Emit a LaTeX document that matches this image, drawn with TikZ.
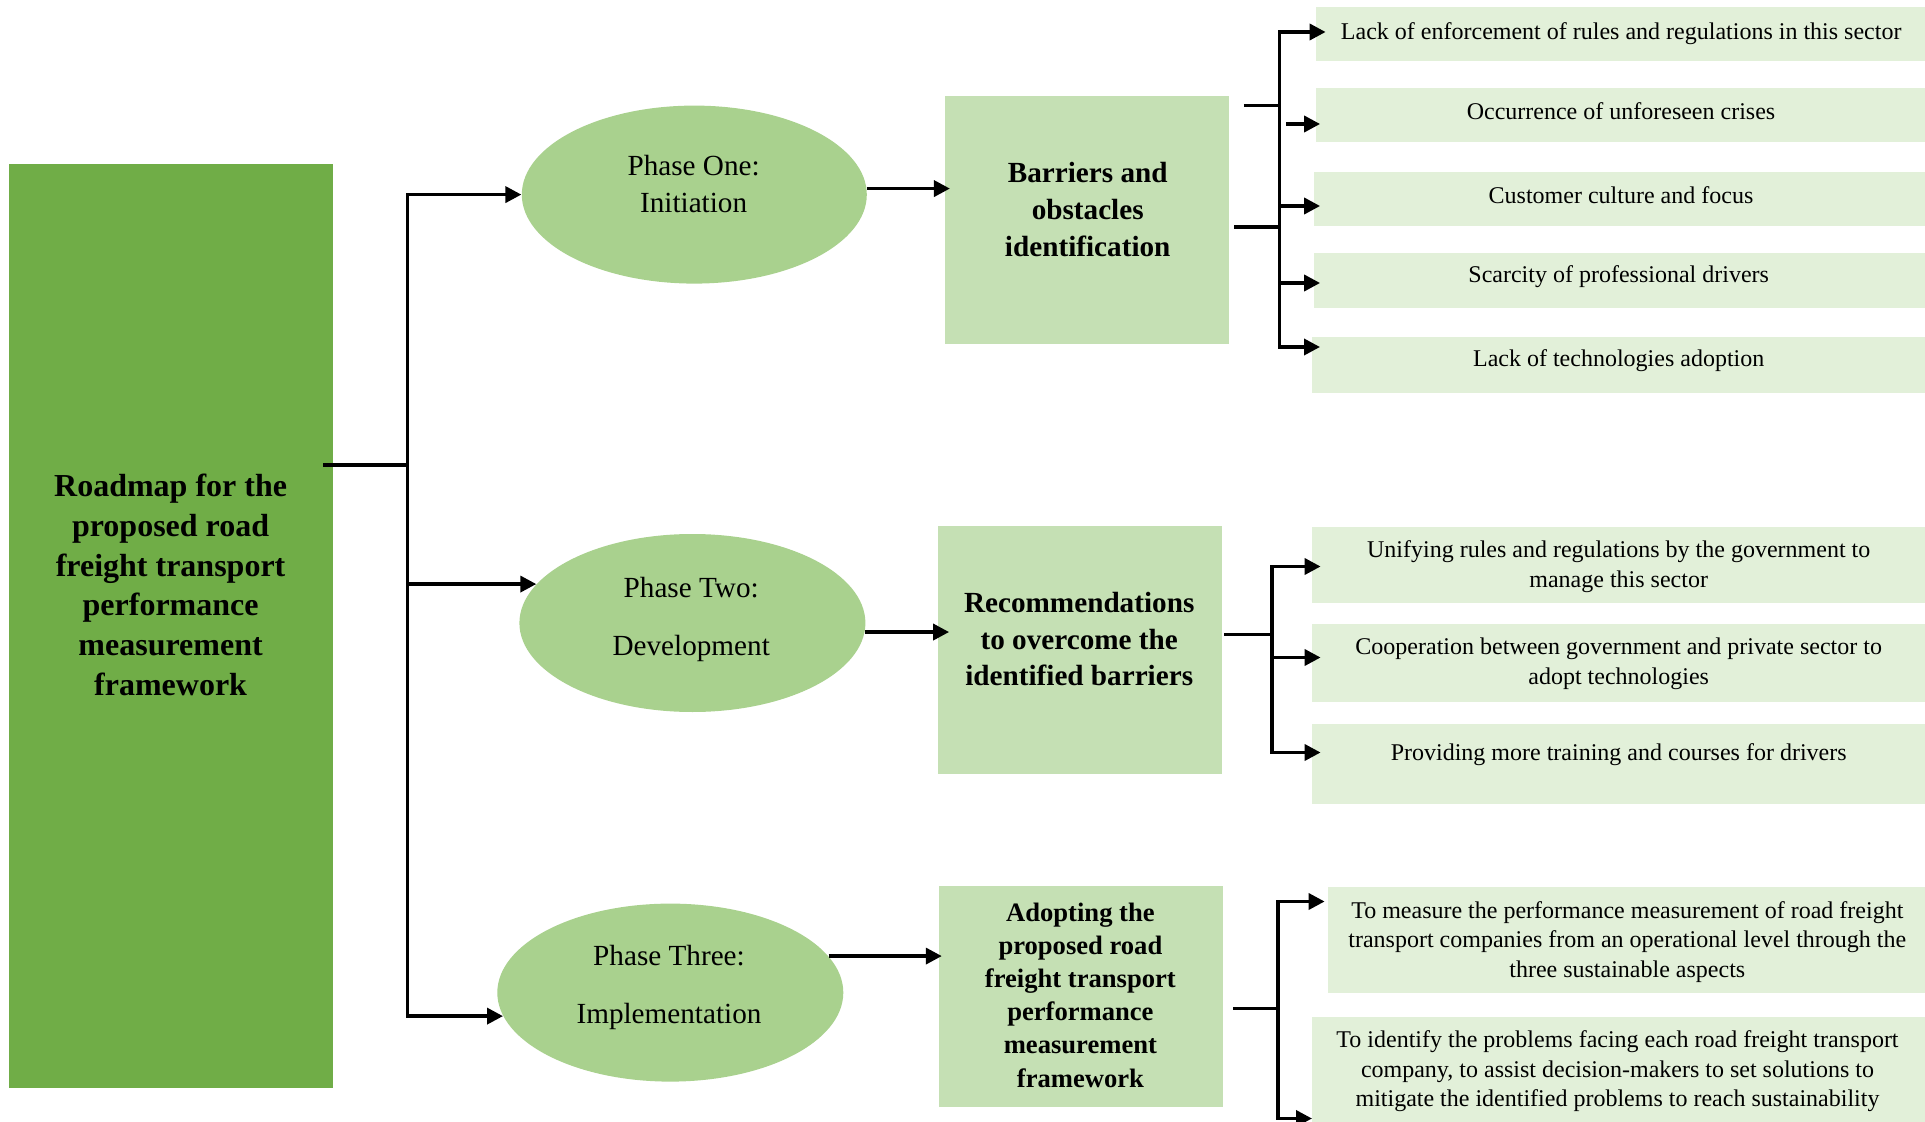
\documentclass[tikz,border=0pt]{standalone}
\usepackage{fontspec}
\setmainfont{Liberation Serif}
\usetikzlibrary{arrows.meta,shapes.geometric,calc}

\definecolor{rootgreen}{HTML}{70AD47}
\definecolor{phasegreen}{HTML}{A9D18E}
\definecolor{midgreen}{HTML}{C5E0B4}
\definecolor{itemgreen}{HTML}{E2F0D9}

\tikzset{
  rootbox/.style={rectangle, fill=rootgreen, inner sep=0pt},
  phase/.style={ellipse, fill=phasegreen, inner sep=0pt, minimum width=173pt, minimum height=89pt},
  midbox/.style={rectangle, fill=midgreen, inner sep=0pt, minimum width=141.8pt},
  itembox/.style={rectangle, fill=itemgreen, inner sep=0pt},
  txt/.style={align=center, inner sep=0pt},
  itemtxt/.style={txt, font=\fontsize{12}{15.3}\selectfont},
  phasetxt/.style={txt, font=\fontsize{14.6}{28.9}\selectfont},
  midtxt/.style={txt, font=\bfseries\fontsize{14.6}{18.4}\selectfont},
  conn/.style={line width=1.8pt},
  arr/.style={conn, -{Triangle[length=8pt,width=8pt]}}
}

\begin{document}
\begin{tikzpicture}[x=0.5pt,y=-0.5pt]
\useasboundingbox (0,0) rectangle (1925,1122);

% ---- main block ----
\node[rootbox, minimum width=162.05pt, minimum height=461.65pt] (root) at (170.65,626.15) {};
\node[txt, font=\bfseries\fontsize{16}{19.85}\selectfont] (rootT) at (170.6,585)
  {Roadmap for the\\proposed road\\freight transport\\performance\\measurement\\framework};

% ---- phases ----
\node[phase, minimum width=172.5pt] (e1) at (694.3,194.6) {};
\node[phase] (e2) at (692.4,623) {};
\node[phase] (e3) at (670.3,992.6) {};
\node[txt, font=\fontsize{14.6}{18.4}\selectfont] (e1T) at (693.6,184.2) {Phase One:\\Initiation};
\node[phasetxt] (e2T) at (691.2,619.5) {Phase Two:\\Development};
\node[phasetxt] (e3T) at (669,987.7) {Phase Three:\\Implementation};

% ---- phase outcomes ----
\node[midbox, minimum height=124pt] (b1) at (1087.1,219.8) {};
\node[midbox, minimum height=124pt] (b2) at (1079.8,649.5) {};
\node[midbox, minimum height=110.5pt] (b3) at (1081,996.9) {};
\node[midtxt] (b1T) at (1087.7,209.5) {Barriers and\\obstacles\\identification};
\node[midtxt] (b2T) at (1079.2,639.2) {Recommendations\\to overcome the\\identified barriers};
\node[txt, font=\bfseries\fontsize{13.3}{16.6}\selectfont] (b3T) at (1080.4,995)
  {Adopting the\\proposed road\\freight transport\\performance\\measurement\\framework};

% ---- detail items ----
\node[itembox, minimum width=304.5pt,  minimum height=27pt]    (r1)  at (1620.5,34) {};
\node[itembox, minimum width=304.5pt,  minimum height=27pt]    (r2)  at (1620.5,115) {};
\node[itembox, minimum width=305.75pt, minimum height=27pt]    (r3)  at (1619.25,199) {};
\node[itembox, minimum width=305.75pt, minimum height=27.5pt]  (r4)  at (1619.25,280.5) {};
\node[itembox, minimum width=306.3pt,  minimum height=28pt]    (r5)  at (1618.7,365) {};
\node[itembox, minimum width=306.3pt,  minimum height=38.25pt] (r6)  at (1618.7,564.75) {};
\node[itembox, minimum width=306.3pt,  minimum height=39.35pt] (r7)  at (1618.7,662.85) {};
\node[itembox, minimum width=306.3pt,  minimum height=39.9pt]  (r8)  at (1618.7,764.1) {};
\node[itembox, minimum width=298.75pt, minimum height=53pt]    (r9)  at (1626.25,940.2) {};
\node[itembox, minimum width=306.3pt,  minimum height=52.75pt] (r10) at (1618.7,1069.25) {};

\node[itemtxt] (r1T) at (1621.2,33.2) {Lack of enforcement of rules and regulations in this sector};
\node[itemtxt] (r2T) at (1621,111.5) {Occurrence of unforeseen crises};
\node[itemtxt] (r3T) at (1621,195) {Customer culture and focus};
\node[itemtxt] (r4T) at (1618.7,276.3) {Scarcity of professional drivers};
\node[itemtxt] (r5T) at (1618.7,361) {Lack of technologies adoption};
\node[itemtxt] (r6T) at (1618.7,566.5) {Unifying rules and regulations by the government to\\manage this sector};
\node[itemtxt] (r7T) at (1618.7,663.6) {Cooperation between government and private sector to\\adopt technologies};
\node[itemtxt] (r8T) at (1618.7,755.1) {Providing more training and courses for drivers};
\node[txt, font=\fontsize{12}{14.75}\selectfont] (r9T) at (1627.3,941.7)
  {To measure the performance measurement of road freight\\transport companies from an operational level through the\\three sustainable aspects};
\node[txt, font=\fontsize{12}{14.75}\selectfont] (r10T) at (1617.5,1071.3)
  {To identify the problems facing each road freight transport\\company, to assist decision-makers to set solutions to\\mitigate the identified problems to reach sustainability};

% ---- main block to phases ----
\coordinate (s1) at (407.5,465);
\draw[conn] ($(root.east |- s1)+(-10,0)$) -- (s1);
\draw[arr] (s1) |- (e1.west);
\draw[arr] (s1) |- (e3.188);
\draw[arr] (s1 |- e2.166) -- (e2.166);

% ---- phases to outcomes ----
\draw[arr] (e1.2) -- ($(e1.2 -| b1.west)+(5,0)$);
\draw[arr] (e2.357) -- ($(e2.357 -| b2.west)+(11.5,0)$);
\draw[arr] (e3.13) -- ($(e3.13 -| b3.west)+(3,0)$);

% ---- barriers to items ----
\coordinate (j1) at (1279.5,227);
\draw[conn] ($(b1.east |- j1)+(5,0)$) -- (j1);
\draw[conn] ($(b1.north east)+(14.6,10.2)$) -- ($(j1 |- b1.north east)+(0,10.2)$);
\draw[arr] (j1) |- ($(r1.west)+(10,-2)$);
\draw[arr] (j1) |- ($(r5.west)+(8,-18)$);
\draw[arr] ($(j1 |- r2.west)+(6.5,9)$) -- ($(r2.west)+(4.5,9)$);
\draw[arr] ($(j1 |- r3.west)+(0,7)$) -- ($(r3.west)+(7,7)$);
\draw[arr] ($(j1 |- r4.west)+(0,2.5)$) -- ($(r4.west)+(7,2.5)$);

% ---- recommendations to items ----
\coordinate (j2) at (1272,634.5);
\draw[conn] ($(b2.east |- j2)+(2,0)$) -- (j2);
\draw[arr] (j2) |- ($(r6.west)+(8.6,1.75)$);
\draw[arr] (j2) |- ($(r8.west)+(8.6,-11.6)$);
\draw[arr] ($(j2 |- r7.west)+(0,-5.35)$) -- ($(r7.west)+(8.6,-5.35)$);

% ---- adoption to items ----
\coordinate (j3) at (1278,1008.3);
\draw[conn] ($(b3.east |- j3)+(10,0)$) -- (j3);
\draw[arr] (j3) |- ($(r9.west)+(-2.5,-38.7)$);
\draw[arr] (j3) |- ($(r10.west)+(0,49.25)$);
\end{tikzpicture}
\end{document}
